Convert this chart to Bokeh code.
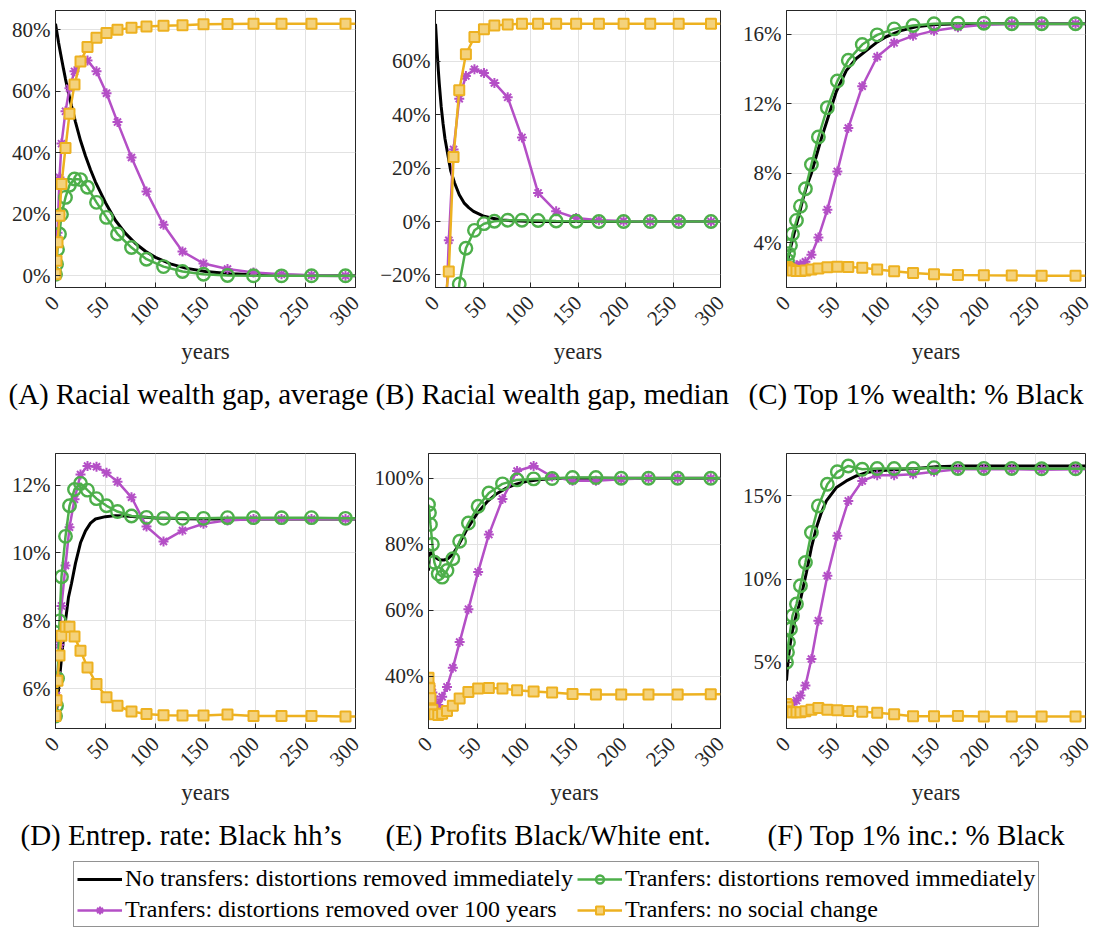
import math
from bokeh.plotting import figure
from bokeh.models import Range1d, FixedTicker, Title, Legend, LegendItem, ColumnDataSource
from bokeh.layouts import column, row
from bokeh.embed import file_html
from bokeh.resources import INLINE

# ---------------- data ----------------
# marker / series years (last entry only extends the lines to the frame edge)
T = [0, 1, 2, 4, 6, 10, 14, 19, 25, 32, 41, 51, 62, 76, 91, 108, 127, 148, 172, 198, 226, 256, 290, 300]
# years of the smooth black series
TB = [0, 1, 2, 3, 4, 6, 8, 10, 13, 16, 20, 25, 30, 35, 40, 50, 60, 70, 80, 90, 100, 115, 130, 150, 175, 200, 250, 300]

A_black = [82, 80, 78, 76, 74.2, 70.7, 67.3, 64, 59.5, 55.3, 50, 44, 39, 34.5, 30.5, 23.8, 18.0, 13.8, 10.5, 8.0, 6.0, 3.9, 2.5, 1.4, 0.7, 0.35, 0.1, 0.0]
A_purple = [0.5, 5.0, 14.0, 32.0, 43.0, 53.5, 61.0, 66.5, 70.0, 70.0, 66.5, 59.4, 50.0, 38.5, 27.4, 16.6, 7.9, 4.0, 2.2, 1.1, 0.5, 0.2, 0.0, 0.0]
A_green = [0.5, 3.8, 8.6, 13.6, 20.0, 25.5, 29.5, 31.5, 31.3, 28.8, 23.9, 19.0, 13.6, 9.2, 5.4, 3.0, 1.4, 0.5, 0.1, 0.0, 0.0, 0.0, 0.0, 0.0]
A_yellow = [0.5, 4.9, 10.9, 19.5, 29.9, 41.6, 52.7, 62.2, 69.7, 74.4, 77.4, 79.0, 80.0, 80.7, 81.1, 81.3, 81.5, 81.8, 81.9, 82.0, 82.0, 82.0, 82.0, 82.0]

B_black = [74, 68, 62, 56.5, 51.5, 43, 36.5, 31, 25, 19, 14.5, 10, 7.0, 5.2, 3.8, 2.1, 1.2, 0.6, 0.3, 0.15, 0.05, 0.0, 0.0, 0.0, 0.0, 0.0, 0.0, 0.0]
B_purple = [-200, -170, -140, -110, -80, -45, -7, 27, 46, 54.5, 57, 55.6, 51.9, 46.5, 31.5, 10.7, 3.8, 1.3, 0.5, 0.2, 0.0, 0.0, 0.0, 0.0]
B_green = [-250, -220, -190, -150, -120, -90, -70, -60, -23.4, -10.0, -3.3, -0.8, 0.1, 0.5, 0.5, 0.4, 0.2, 0.1, 0.0, 0.0, 0.0, 0.0, 0.0, 0.0]
B_yellow = [-250, -200, -150, -100, -70, -30, -18.7, 24.2, 49.1, 62.6, 69.1, 72.0, 73.4, 73.8, 74.0, 74.0, 74.0, 74.0, 74.0, 74.0, 74.0, 74.0, 74.0, 74.0]

C_black = [2.6, 2.9, 3.2, 3.45, 3.7, 4.15, 4.6, 5.05, 5.7, 6.4, 7.2, 8.0, 9.0, 10.0, 10.9, 12.7, 13.9, 14.6, 15.05, 15.5, 15.85, 16.2, 16.42, 16.55, 16.6, 16.6, 16.6, 16.6]
C_purple = [2.6, 2.6, 2.6, 2.6, 2.65, 2.7, 2.75, 2.9, 3.3, 4.3, 5.9, 8.1, 10.6, 13.0, 14.7, 15.5, 15.9, 16.2, 16.4, 16.54, 16.6, 16.6, 16.6, 16.6]
C_green = [2.6, 2.98, 3.37, 3.85, 4.5, 5.28, 6.1, 7.1, 8.5, 10.08, 11.77, 13.3, 14.5, 15.4, 15.96, 16.3, 16.5, 16.6, 16.63, 16.63, 16.6, 16.6, 16.6, 16.6]
C_yellow = [2.6, 2.55, 2.5, 2.45, 2.4, 2.37, 2.37, 2.4, 2.45, 2.52, 2.58, 2.62, 2.6, 2.55, 2.45, 2.35, 2.25, 2.18, 2.14, 2.12, 2.11, 2.1, 2.1, 2.1]

D_black = [5.1, 5.35, 5.6, 5.95, 6.3, 6.9, 7.5, 8.0, 8.7, 9.1, 9.7, 10.3, 10.65, 10.88, 11.0, 11.07, 11.1, 11.09, 11.07, 11.05, 11.03, 11.02, 11.01, 11.0, 11.0, 11.0, 11.0, 11.0]
D_purple = [5.17, 5.8, 6.4, 7.3, 8.44, 9.63, 10.76, 11.58, 12.31, 12.56, 12.54, 12.36, 12.1, 11.64, 10.78, 10.34, 10.66, 10.86, 10.96, 11.0, 11.0, 11.0, 11.0, 11.0]
D_green = [5.2, 5.5, 6.3, 8.0, 9.3, 10.49, 11.39, 11.87, 12.05, 11.85, 11.6, 11.39, 11.22, 11.09, 11.05, 11.02, 11.02, 11.02, 11.04, 11.04, 11.04, 11.04, 11.02, 11.02]
D_yellow = [5.2, 5.66, 6.24, 6.98, 7.56, 7.83, 7.83, 7.54, 7.12, 6.63, 6.14, 5.75, 5.5, 5.33, 5.26, 5.22, 5.21, 5.21, 5.24, 5.2, 5.2, 5.2, 5.18, 5.18]

E_black = [72, 77, 77.5, 77.3, 77, 76.3, 75.8, 75.4, 75.2, 75.2, 75.6, 77.0, 79.3, 82.0, 84.8, 89.3, 92.8, 95.3, 97.0, 98.2, 99.0, 99.6, 99.9, 100, 100, 100, 100, 100]
E_purple = [39, 38, 37, 35, 33, 31.2, 33.7, 36.7, 42.5, 50.3, 60.3, 71.6, 82.9, 93.7, 102.2, 103.7, 100.5, 99.2, 99.2, 99.7, 100, 100, 100, 100]
E_green = [92, 89.5, 86, 80, 74.5, 71, 70, 72, 75.6, 80.9, 86.4, 91.5, 95.5, 98.3, 99.5, 99.8, 99.9, 100.2, 100.2, 100, 100, 100, 100, 100]
E_yellow = [39.5, 36.3, 33.3, 29.8, 28.4, 28.2, 28.6, 29.4, 31.0, 33.2, 35.2, 36.2, 36.4, 36.2, 35.7, 35.3, 35.0, 34.6, 34.4, 34.4, 34.4, 34.4, 34.5, 34.5]

F_black = [3.9, 4.7, 5.3, 5.8, 6.2, 6.9, 7.4, 7.9, 8.5, 9.3, 10.4, 11.9, 13.1, 14.0, 14.7, 15.5, 15.9, 16.2, 16.4, 16.5, 16.55, 16.6, 16.65, 16.75, 16.8, 16.8, 16.8, 16.8]
F_purple = [2.5, 2.5, 2.5, 2.5, 2.5, 2.7, 3.0, 3.6, 5.2, 7.5, 10.2, 12.6, 14.7, 15.9, 16.25, 16.25, 16.3, 16.45, 16.6, 16.6, 16.6, 16.58, 16.6, 16.6]
F_green = [5.0, 5.6, 6.2, 7.0, 7.8, 8.5, 9.6, 11.0, 12.8, 14.4, 15.7, 16.45, 16.8, 16.6, 16.65, 16.65, 16.65, 16.7, 16.65, 16.65, 16.65, 16.63, 16.63, 16.63]
F_yellow = [2.5, 2.3, 2.05, 2.0, 2.0, 2.0, 2.0, 2.05, 2.15, 2.25, 2.15, 2.12, 2.07, 2.02, 1.97, 1.87, 1.75, 1.75, 1.77, 1.74, 1.74, 1.74, 1.74, 1.74]

X_TICKS = [0, 50, 100, 150, 200, 250, 300]
A_YTICKS = [0, 20, 40, 60, 80]
A_YLABELS = ["0%", "20%", "40%", "60%", "80%"]
B_YTICKS = [-20, 0, 20, 40, 60]
B_YLABELS = ["\u221220%", "0%", "20%", "40%", "60%"]
C_YTICKS = [4, 8, 12, 16]
C_YLABELS = ["4%", "8%", "12%", "16%"]
D_YTICKS = [6, 8, 10, 12]
D_YLABELS = ["6%", "8%", "10%", "12%"]
E_YTICKS = [40, 60, 80, 100]
E_YLABELS = ["40%", "60%", "80%", "100%"]
F_YTICKS = [5, 10, 15]
F_YLABELS = ["5%", "10%", "15%"]

CAPTIONS = ["(A) Racial wealth gap, average", "(B) Racial wealth gap, median",
            "(C) Top 1% wealth: % Black", "(D) Entrep. rate: Black hh\u2019s",
            "(E) Profits Black/White ent.", "(F) Top 1% inc.: % Black"]
SERIES_LABELS = ["No transfers: distortions removed immediately",
                 "Tranfers: distortions removed over 100 years",
                 "Tranfers: distortions removed immediately",
                 "Tranfers: no social change"]
X_LABEL = "years"

# ---------------- style ----------------
FONT = "Liberation Serif"
AX = "#262626"
BLACK = "#000000"
PURPLE = "#B44FC6"
GREEN = "#4DAF4A"
YELLOW = "#EDB120"
YELLOW_FILL = "#F4D27C"

panels = [
    dict(black=A_black, purple=A_purple, green=A_green, yellow=A_yellow, yr=(-3.8, 86.3), yt=A_YTICKS, yl=A_YLABELS, cap=CAPTIONS[0]),
    dict(black=B_black, purple=B_purple, green=B_green, yellow=B_yellow, yr=(-24.7, 79.0), yt=B_YTICKS, yl=B_YLABELS, cap=CAPTIONS[1]),
    dict(black=C_black, purple=C_purple, green=C_green, yellow=C_yellow, yr=(1.42, 17.36), yt=C_YTICKS, yl=C_YLABELS, cap=CAPTIONS[2]),
    dict(black=D_black, purple=D_purple, green=D_green, yellow=D_yellow, yr=(4.83, 12.93), yt=D_YTICKS, yl=D_YLABELS, cap=CAPTIONS[3]),
    dict(black=E_black, purple=E_purple, green=E_green, yellow=E_yellow, yr=(24.1, 107.5), yt=E_YTICKS, yl=E_YLABELS, cap=CAPTIONS[4]),
    dict(black=F_black, purple=F_purple, green=F_green, yellow=F_yellow, yr=(1.02, 17.55), yt=F_YTICKS, yl=F_YLABELS, cap=CAPTIONS[5]),
]
geo = [
    dict(w=370, l=55, r=15, h=440, t=10, b=153, off=-47),
    dict(w=365, l=65, r=15, h=440, t=10, b=153, off=-60),
    dict(w=365, l=51, r=15, h=440, t=10, b=153, off=-38),
    dict(w=370, l=55, r=15, h=420, t=13, b=130, off=-35),
    dict(w=365, l=58, r=15, h=420, t=13, b=130, off=-43),
    dict(w=365, l=51, r=15, h=420, t=13, b=130, off=-19),
]


def add_series(p, cfg):
    src_b = ColumnDataSource(dict(x=TB, y=cfg["black"]))
    src_p = ColumnDataSource(dict(x=T, y=cfg["purple"]))
    src_g = ColumnDataSource(dict(x=T, y=cfg["green"]))
    src_y = ColumnDataSource(dict(x=T, y=cfg["yellow"]))
    mk_p = ColumnDataSource(dict(x=T[:-1], y=cfg["purple"][:-1]))
    mk_g = ColumnDataSource(dict(x=T[:-1], y=cfg["green"][:-1]))
    mk_y = ColumnDataSource(dict(x=T[:-1], y=cfg["yellow"][:-1]))
    r = {}
    r["bl"] = p.line("x", "y", source=src_b, line_color=BLACK, line_width=3)
    r["pl"] = p.line("x", "y", source=src_p, line_color=PURPLE, line_width=2.5)
    r["pm"] = p.scatter("x", "y", source=mk_p, marker="asterisk", size=10, line_color=PURPLE, line_width=2)
    r["gl"] = p.line("x", "y", source=src_g, line_color=GREEN, line_width=2.5)
    r["gm"] = p.scatter("x", "y", source=mk_g, marker="circle", size=12.5, line_color=GREEN, fill_color=None, line_width=2.4)
    r["yl"] = p.line("x", "y", source=src_y, line_color=YELLOW, line_width=2.5)
    r["ym"] = p.scatter("x", "y", source=mk_y, marker="square", size=10, line_color=YELLOW, fill_color=YELLOW_FILL, line_width=2)
    return r


figs = []
for cfg, g in zip(panels, geo):
    p = figure(width=g["w"], height=g["h"], x_range=Range1d(0, 300), y_range=Range1d(*cfg["yr"]),
               output_backend="svg", toolbar_location=None, title=None,
               min_border_left=g["l"], min_border_right=g["r"], min_border_top=g["t"], min_border_bottom=g["b"])
    p.outline_line_color = AX
    p.outline_line_width = 1
    p.background_fill_color = "white"
    p.border_fill_color = "white"
    p.xaxis.ticker = FixedTicker(ticks=X_TICKS)
    p.yaxis.ticker = FixedTicker(ticks=cfg["yt"])
    p.yaxis.major_label_overrides = {float(t): s for t, s in zip(cfg["yt"], cfg["yl"])}
    p.xaxis.major_label_orientation = math.pi / 4
    p.xaxis.axis_label = X_LABEL
    for ax in (p.xaxis[0], p.yaxis[0]):
        ax.axis_line_color = AX
        ax.major_tick_line_color = AX
        ax.major_tick_in = 5
        ax.major_tick_out = 0
        ax.minor_tick_line_color = None
        ax.major_label_text_font = FONT
        ax.major_label_text_font_size = "21px"
        ax.major_label_text_color = AX
        ax.major_label_standoff = 5
        ax.axis_label_text_font = FONT
        ax.axis_label_text_font_size = "23px"
        ax.axis_label_text_font_style = "normal"
        ax.axis_label_text_color = AX
    p.xaxis.major_label_standoff = 12
    p.xaxis.axis_label_standoff = 4
    p.grid.grid_line_color = "#e2e2e2"
    p.grid.grid_line_width = 1
    p.xgrid.ticker = FixedTicker(ticks=X_TICKS)
    p.ygrid.ticker = FixedTicker(ticks=cfg["yt"])
    add_series(p, cfg)
    cap = Title(text=cfg["cap"], align="left", offset=g["off"], text_font=FONT, text_font_size="29px",
                text_font_style="normal", text_color="#000000", standoff=19)
    p.add_layout(cap, "below")
    figs.append(p)

# legend panel (series drawn outside its visible range, only the legend shows)
lf = figure(width=1100, height=68, x_range=Range1d(1000, 1001), y_range=Range1d(1000, 1001),
            output_backend="svg", toolbar_location=None, title=None,
            min_border_left=0, min_border_right=0, min_border_top=0, min_border_bottom=0)
lf.axis.visible = False
lf.grid.visible = False
lf.outline_line_color = None
rr = add_series(lf, panels[0])
items = [
    LegendItem(label=SERIES_LABELS[0], renderers=[rr["bl"]]),
    LegendItem(label=SERIES_LABELS[1], renderers=[rr["pl"], rr["pm"]]),
    LegendItem(label=SERIES_LABELS[2], renderers=[rr["gl"], rr["gm"]]),
    LegendItem(label=SERIES_LABELS[3], renderers=[rr["yl"], rr["ym"]]),
]
leg = Legend(items=items, ncols=2, location=(73, 1), margin=0, padding=3, spacing=4,
             glyph_width=45, glyph_height=20, label_standoff=3,
             label_text_font=FONT, label_text_font_size="24px", label_text_color="#000000",
             border_line_color=AX, border_line_width=1, background_fill_alpha=1)
lf.add_layout(leg, "center")

layout = column(row(figs[0], figs[1], figs[2]), row(figs[3], figs[4], figs[5]), lf)
open("out.html", "w").write(file_html(layout, INLINE))
